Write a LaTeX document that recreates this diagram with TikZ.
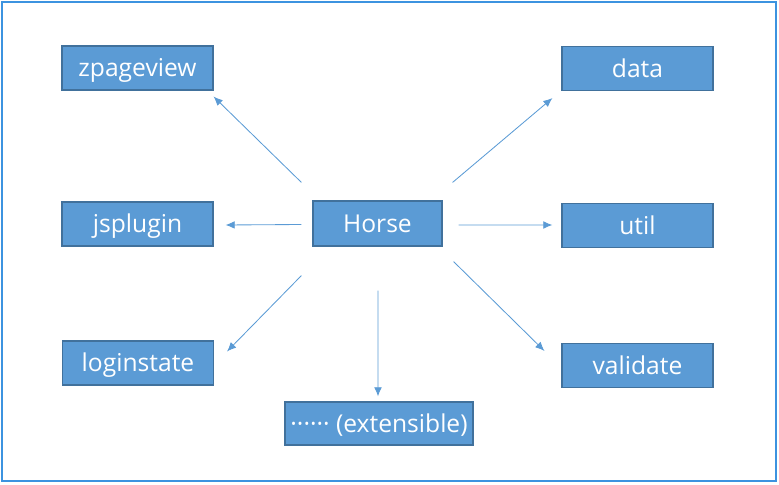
\documentclass[tikz,border=0pt]{standalone}
\usepackage{fontspec}
\setmainfont{Open Sans}
\usepackage{tikz}
\usetikzlibrary{positioning,arrows.meta}

\definecolor{boxblue}{HTML}{5B9BD5}
\definecolor{boxedge}{HTML}{41719C}
\definecolor{framblue}{HTML}{3C93E0}

\begin{document}
\begin{tikzpicture}[x=0.025cm,y=-0.025cm,
    module/.style={draw=boxedge,fill=boxblue,text=white,line width=0.8pt,
        minimum width=3.775cm,minimum height=1.1cm,inner sep=0pt,
        text height=12.4pt,text depth=0pt,
        font=\fontsize{17.5}{20}\selectfont},
    link/.style={boxblue,line width=0.6pt,-{Latex[length=6.5pt,width=5.5pt]}}]

\useasboundingbox (0,0) rectangle (779,485);
\draw[framblue,line width=1pt] (2,2) rectangle (776,481);

\node[module,minimum width=3.225cm,minimum height=1.125cm] (Horse) at (377.5,223.5) {Horse};

\foreach \name/\x/\y in {zpageview/137.5/68, data/637.5/68.5, jsplugin/137.5/224,
    util/637.5/225.5, loginstate/138/363, validate/637.5/365.5} {
    \node[module] (\name) at (\x,\y) {\name};
}

\node[module,minimum width=4.7cm,minimum height=1.075cm] (more) at (379,423.5) {······ (extensible)};

\draw[link] ([shift={(-11,-18)}]Horse.north west) -- ([shift={(0,6)}]zpageview.south east);
\draw[link] ([shift={(10,-18)}]Horse.north east) -- ([shift={(-9,7)}]data.south west);
\draw[link] ([shift={(-11,1)}]Horse.west) -- ([shift={(12,1)}]jsplugin.east);
\draw[link] ([shift={(16,1.5)}]Horse.east) -- ([shift={(-9,-0.5)}]util.west);
\draw[link] ([shift={(-11,29)}]Horse.south west) -- ([shift={(13,11)}]loginstate.north east);
\draw[link] ([shift={(11,15)}]Horse.south east) -- ([shift={(-17,8)}]validate.north west);
\draw[link] ([shift={(0.5,44)}]Horse.south) -- ([shift={(-1,-5)}]more.north);

\end{tikzpicture}
\end{document}
